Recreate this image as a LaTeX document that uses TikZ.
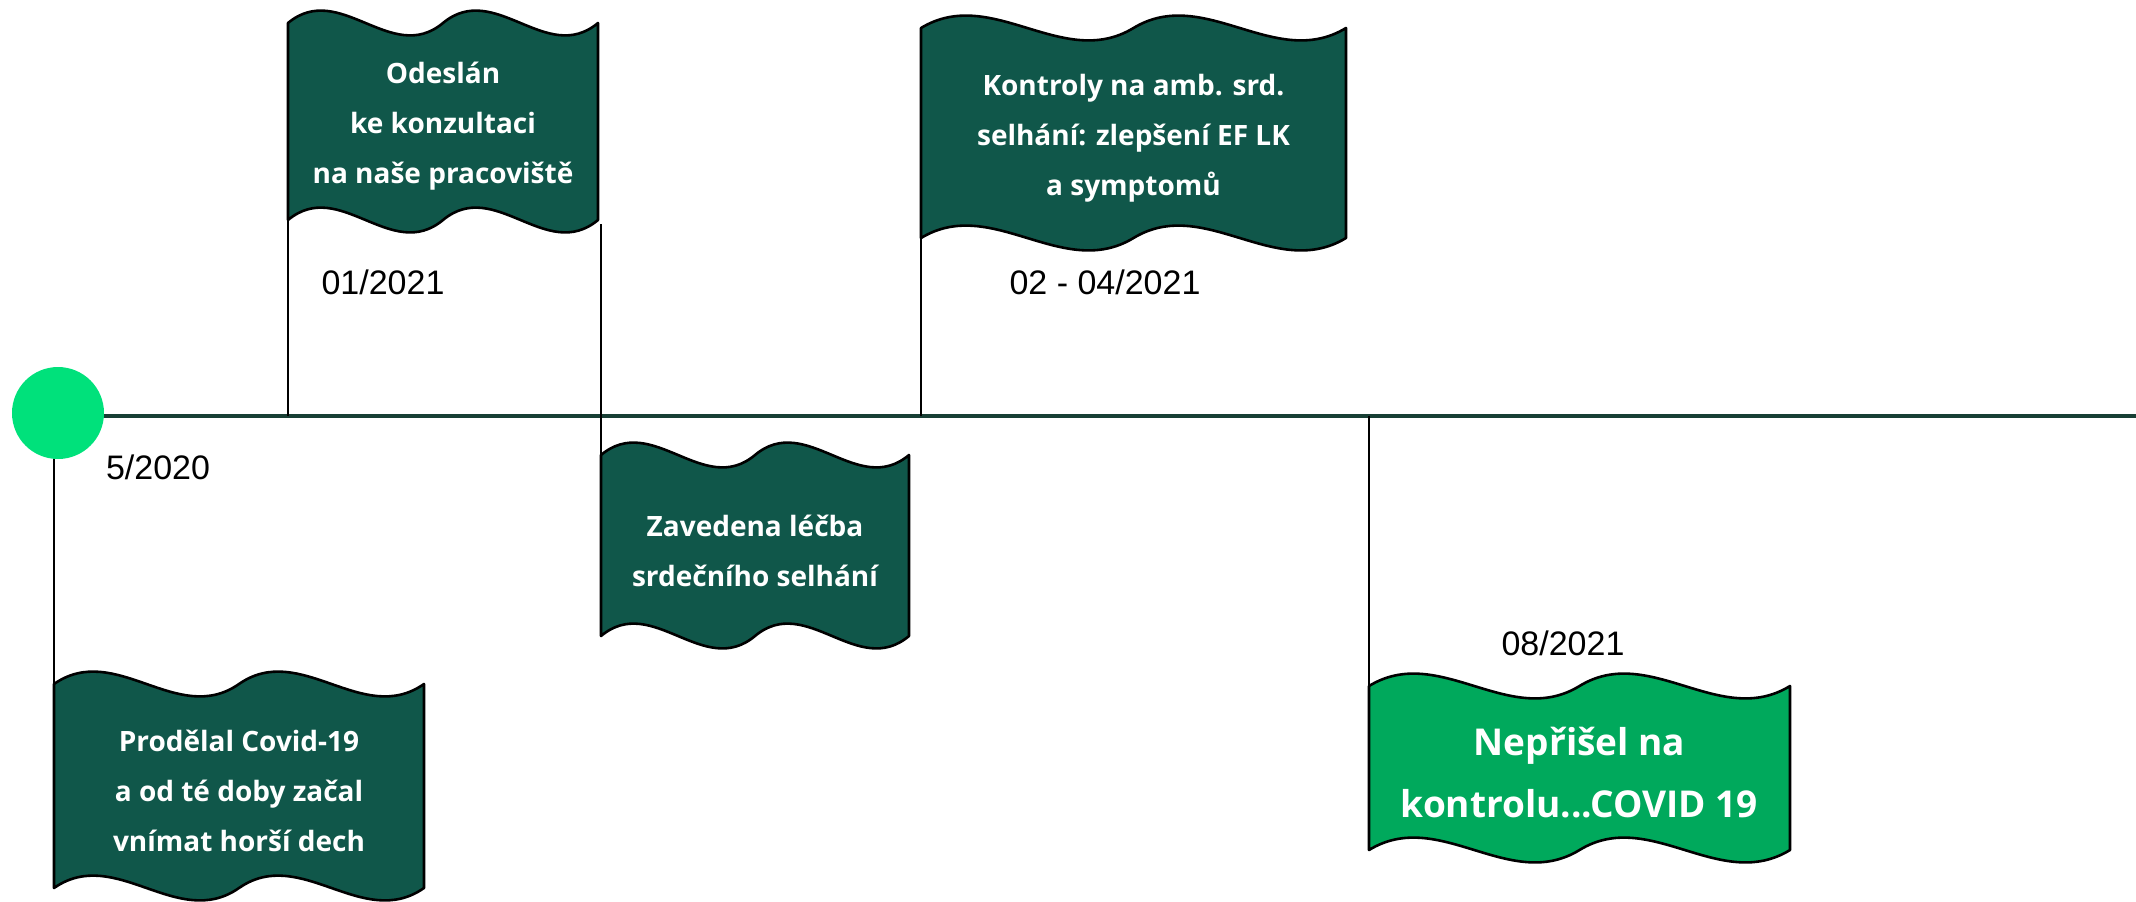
\documentclass[tikz,border=0pt]{standalone}
\usepackage{fontspec}
\setmainfont{Open Sans}
\newfontfamily\datefont{Liberation Sans}
\usepackage{xcolor}
\usepackage{tikz}
\definecolor{flaggreen}{HTML}{10574A}
\definecolor{axisgreen}{HTML}{183F35}
\definecolor{startgreen}{HTML}{00E17B}
\definecolor{lightflag}{HTML}{00A95C}

% vlajka: [styl textu], jmeno, levy x, pravy x, horni y, dolni y, vypln, text
\def\wamp{43}
\newcommand{\wavyflag}[8][]{%
	\pgfmathsetmacro{\qa}{#3+(#4-#3)/6}%
	\pgfmathsetmacro{\qb}{#3+(#4-#3)/3}%
	\pgfmathsetmacro{\qc}{#3+(#4-#3)/2}%
	\pgfmathsetmacro{\qd}{#3+2*(#4-#3)/3}%
	\pgfmathsetmacro{\qe}{#3+5*(#4-#3)/6}%
	\filldraw[flagbody, fill=#7] (#3,#5) .. controls (\qa,#5-\wamp) and (\qb,#5+\wamp) .. (\qc,#5)
		.. controls (\qd,#5-\wamp) and (\qe,#5+\wamp) .. (#4,#5) -- (#4,#6)
		.. controls (\qe,#6+\wamp) and (\qd,#6-\wamp) .. (\qc,#6)
		.. controls (\qb,#6+\wamp) and (\qa,#6-\wamp) .. (#3,#6) -- cycle;
	\coordinate (#2-nw) at (#3,#5);
	\coordinate (#2-sw) at (#3,#6);
	\node[flagtext, #1] (#2) at (\qc,{(#5+#6)/2+5}) {#8};
}

\begin{document}
\begin{tikzpicture}[x=0.5pt, y=-0.5pt,
		flagbody/.style={draw=black, line width=1.3pt, line join=round},
		flagtext/.style={text=white, align=center, font=\fontsize{14}{25}\selectfont\bfseries},
		bigtext/.style={font=\fontsize{18.5}{31}\selectfont\bfseries},
		datelabel/.style={font=\datefont\fontsize{17}{20}\selectfont},
		pole/.style={draw=black, line width=1pt},
		timeline/.style={draw=axisgreen, line width=2pt}]
	\useasboundingbox (0,0) rectangle (2136,901);
	
	% osa
	\node[circle, fill=startgreen, minimum size=46pt, inner sep=0pt] (start) at (58,413) {};
	\coordinate (axisR) at (2136,416);
	\draw[timeline] (start.east |- axisR) -- (axisR);
	
	% vlajky
	\wavyflag{odeslan}{288}{598}{23}{220}{flaggreen}{Odeslán\\ke konzultaci\\na naše pracoviště}
	\wavyflag{zavedena}{601}{909}{455}{636}{flaggreen}{Zavedena léčba\\srdečního selhání}
	\wavyflag{kontroly}{921}{1346}{28}{238}{flaggreen}{Kontroly na amb. srd.\\selhání: zlepšení EF LK\\a symptomů}
	\wavyflag{prodelal}{54}{424}{684}{888}{flaggreen}{Prodělal Covid-19\\a od té doby začal\\vnímat horší dech}
	\wavyflag[bigtext]{neprisel}{1369}{1790}{686}{850}{lightflag}{Nepřišel na\\kontrolu...COVID 19}
	
	% zerdi
	\coordinate (zavedena-top) at (601,224);
	\draw[pole] (odeslan-sw) -- (odeslan-sw |- axisR);
	\draw[pole] (zavedena-top) -- (zavedena-nw);
	\draw[pole] (kontroly-sw) -- (kontroly-sw |- axisR);
	\draw[pole] (prodelal-nw |- start.south) -- (prodelal-nw);
	\draw[pole] (neprisel-nw |- axisR) -- (neprisel-nw);
	
	% data
	\node[datelabel] (d-start) at (158,467) {5/2020};
	\node[datelabel] (d-odeslan) at (383,282) {01/2021};
	\node[datelabel] (d-kontroly) at (1105,282) {02 - 04/2021};
	\node[datelabel] (d-neprisel) at (1563,643) {08/2021};
\end{tikzpicture}
\end{document}
